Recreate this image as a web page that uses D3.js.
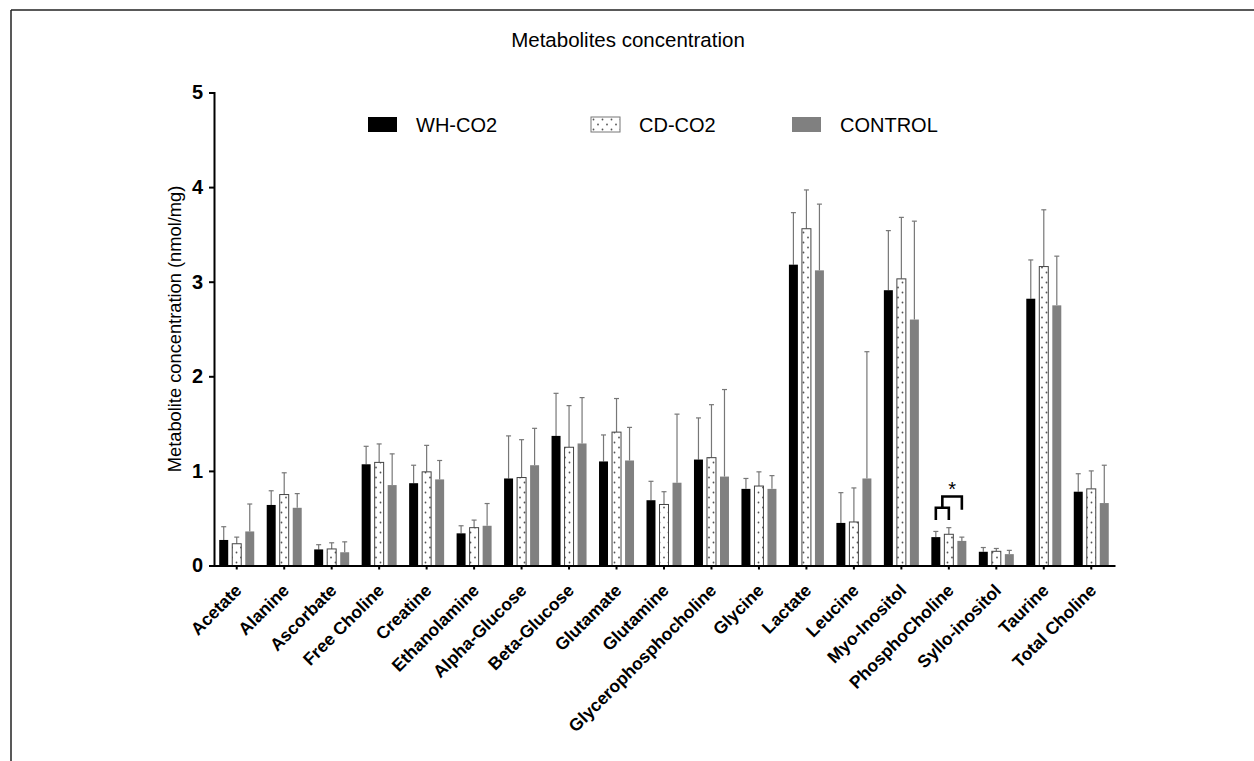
<!DOCTYPE html>
<html lang="en">
<head>
    <meta charset="UTF-8">
    <title>Metabolites concentration</title>
    <script src="https://d3js.org/d3.v7.min.js"></script>
    <style>
        body {
            margin: 0;
            font-family: "Liberation Sans", Arial, sans-serif;
            background: #fff;
        }
        .tick-label {
            font-weight: bold;
        }
    </style>
</head>
<body>
    <div id="chart"></div>

    <script>
        // categories and series (means + SD)
        const categories = ["Acetate", "Alanine", "Ascorbate", "Free Choline", "Creatine", "Ethanolamine",
            "Alpha-Glucose", "Beta-Glucose", "Glutamate", "Glutamine", "Glycerophosphocholine", "Glycine",
            "Lactate", "Leucine", "Myo-Inositol", "PhosphoCholine", "Syllo-inositol", "Taurine", "Total Choline"];

        const seriesNames = ["WH-CO2", "CD-CO2", "CONTROL"];

        const whMean = [0.27, 0.64, 0.17, 1.07, 0.87, 0.34, 0.92, 1.37, 1.10, 0.69, 1.12, 0.81, 3.18, 0.45, 2.91, 0.30, 0.145, 2.82, 0.78];
        const whSd   = [0.14, 0.15, 0.05, 0.19, 0.19, 0.08, 0.45, 0.45, 0.28, 0.20, 0.44, 0.11, 0.55, 0.32, 0.63, 0.06, 0.045, 0.41, 0.19];

        const cdMean = [0.23, 0.75, 0.175, 1.09, 0.99, 0.40, 0.93, 1.25, 1.41, 0.645, 1.14, 0.84, 3.56, 0.46, 3.03, 0.33, 0.15, 3.16, 0.81];
        const cdSd   = [0.07, 0.23, 0.065, 0.195, 0.28, 0.08, 0.40, 0.44, 0.355, 0.135, 0.56, 0.15, 0.41, 0.36, 0.65, 0.07, 0.03, 0.60, 0.19];

        const ctrlMean = [0.36, 0.61, 0.14, 0.85, 0.91, 0.42, 1.06, 1.29, 1.11, 0.875, 0.94, 0.81, 3.12, 0.92, 2.60, 0.26, 0.12, 2.75, 0.66];
        const ctrlSd   = [0.29, 0.15, 0.11, 0.33, 0.20, 0.235, 0.39, 0.485, 0.35, 0.725, 0.92, 0.14, 0.70, 1.34, 1.04, 0.04, 0.04, 0.52, 0.40];

        const yTicks = [0, 1, 2, 3, 4, 5];

        // significance bracket on PhosphoCholine (y levels in data units)
        const sigCategory = "PhosphoCholine";
        const sigLevels = { legBottom: 0.48, innerTop: 0.61, outerTop: 0.73, rightLeg: 0.59, star: 0.86 };

        // build rows
        const meansBySeries = [whMean, cdMean, ctrlMean];
        const sdBySeries = [whSd, cdSd, ctrlSd];
        const rows = [];
        seriesNames.forEach((s, si) => {
            categories.forEach((c, ci) => {
                rows.push({ series: s, cat: c, mean: meansBySeries[si][ci], sd: sdBySeries[si][ci] });
            });
        });

        const W = 1254, H = 761;
        const svg = d3.select("#chart").append("svg")
            .attr("width", W)
            .attr("height", H);

        // dotted pattern
        const defs = svg.append("defs");
        const pat = defs.append("pattern")
            .attr("id", "dots")
            .attr("patternUnits", "userSpaceOnUse")
            .attr("width", 9)
            .attr("height", 10);
        pat.append("rect").attr("width", 9).attr("height", 10).attr("fill", "#fff");
        pat.append("circle").attr("cx", 2.5).attr("cy", 2.5).attr("r", 0.9).attr("fill", "#555");
        pat.append("circle").attr("cx", 7).attr("cy", 7.5).attr("r", 0.9).attr("fill", "#555");

        // frame
        svg.append("line").attr("x1", 11).attr("x2", W).attr("y1", 10).attr("y2", 10)
            .attr("stroke", "#222").attr("stroke-width", 1.5);
        svg.append("line").attr("x1", 11).attr("x2", 11).attr("y1", 10).attr("y2", H)
            .attr("stroke", "#222").attr("stroke-width", 1.5);

        // title
        svg.append("text")
            .attr("x", 628)
            .attr("y", 47)
            .attr("text-anchor", "middle")
            .style("font-size", "20.5px")
            .text("Metabolites concentration");

        // scales
        const x = d3.scaleBand()
            .domain(categories)
            .range([213, 1115])
            .paddingInner(0)
            .paddingOuter(0);

        const xSub = d3.scaleBand()
            .domain(seriesNames)
            .range([-17.5, 17.5])
            .paddingInner(0.31);

        const y = d3.scaleLinear()
            .domain([0, 5])
            .range([565.5, 92.5]);

        const fills = { "WH-CO2": "#000", "CD-CO2": "url(#dots)", "CONTROL": "#808080" };

        const cx = d => x(d.cat) + x.bandwidth() / 2 + xSub(d.series) + xSub.bandwidth() / 2;

        // error bars (upper only)
        const err = svg.append("g").attr("stroke", "#777").attr("stroke-width", 1.2);
        err.selectAll(".ev").data(rows).enter().append("line")
            .attr("x1", cx).attr("x2", cx)
            .attr("y1", d => y(d.mean))
            .attr("y2", d => y(d.mean + d.sd));
        err.selectAll(".ec").data(rows).enter().append("line")
            .attr("x1", d => cx(d) - 2.5).attr("x2", d => cx(d) + 2.5)
            .attr("y1", d => y(d.mean + d.sd))
            .attr("y2", d => y(d.mean + d.sd));

        // bars
        svg.selectAll(".bar")
            .data(rows)
            .enter().append("rect")
            .attr("class", "bar")
            .attr("x", d => x(d.cat) + x.bandwidth() / 2 + xSub(d.series))
            .attr("y", d => y(d.mean))
            .attr("width", xSub.bandwidth())
            .attr("height", d => y(0) - y(d.mean))
            .attr("fill", d => fills[d.series])
            .attr("stroke", d => d.series === "CD-CO2" ? "#444" : "none")
            .attr("stroke-width", 1);

        // y axis
        const yAxis = svg.append("g")
            .attr("transform", `translate(${x.range()[0] + 1},0)`)
            .call(d3.axisLeft(y).tickValues(yTicks).tickSize(5).tickPadding(6).tickFormat(d3.format("d")));
        yAxis.select(".domain").attr("stroke-width", 2);
        yAxis.selectAll(".tick line").attr("stroke-width", 2);
        yAxis.selectAll("text")
            .attr("class", "tick-label")
            .style("font-size", "20px")
            .style("font-family", "'Liberation Sans', Arial, sans-serif");

        // x axis
        const xAxis = svg.append("g")
            .attr("transform", `translate(0,${y(0)})`)
            .call(d3.axisBottom(x).tickSize(4).tickSizeOuter(0));
        xAxis.select(".domain").attr("stroke-width", 2);
        xAxis.selectAll(".tick line").attr("stroke-width", 2);
        xAxis.selectAll("text")
            .attr("class", "tick-label")
            .style("font-size", "17.5px")
            .style("font-family", "'Liberation Sans', Arial, sans-serif")
            .style("text-anchor", "end")
            .attr("y", 0)
            .attr("dy", null)
            .attr("transform", "translate(6,26) rotate(-45)");

        // y axis label
        svg.append("text")
            .attr("transform", "rotate(-90)")
            .attr("x", -(y(0) + y(5)) / 2)
            .attr("y", 181)
            .attr("text-anchor", "middle")
            .style("font-size", "18.3px")
            .text("Metabolite concentration (nmol/mg)");

        // significance bracket
        const bx = s => x(sigCategory) + x.bandwidth() / 2 + xSub(s) + xSub.bandwidth() / 2;
        const xa = bx("WH-CO2"), xb = bx("CD-CO2"), xc = bx("CONTROL");
        const xm = (xa + xb) / 2;
        const sig = svg.append("g")
            .attr("fill", "none")
            .attr("stroke", "#000")
            .attr("stroke-width", 2.6);
        sig.append("path")
            .attr("d", `M${xa},${y(sigLevels.legBottom)} V${y(sigLevels.innerTop)} H${xb} V${y(sigLevels.legBottom)}`);
        sig.append("path")
            .attr("d", `M${xm},${y(sigLevels.innerTop)} V${y(sigLevels.outerTop)} H${xc} V${y(sigLevels.rightLeg)}`);
        svg.append("text")
            .attr("x", (xm + xc) / 2)
            .attr("y", y(sigLevels.star) + 12)
            .attr("text-anchor", "middle")
            .style("font-size", "20px")
            .text("*");

        // legend
        const legendPos = [368, 591, 792];
        const legend = svg.selectAll(".legend")
            .data(seriesNames)
            .enter().append("g")
            .attr("transform", (d, i) => `translate(${legendPos[i]},117)`);
        legend.append("rect")
            .attr("width", 29)
            .attr("height", 15)
            .attr("fill", d => fills[d])
            .attr("stroke", d => d === "CD-CO2" ? "#777" : "none");
        legend.append("text")
            .attr("x", 48)
            .attr("y", 15)
            .style("font-size", "20px")
            .text(d => d);
    </script>
</body>
</html>
